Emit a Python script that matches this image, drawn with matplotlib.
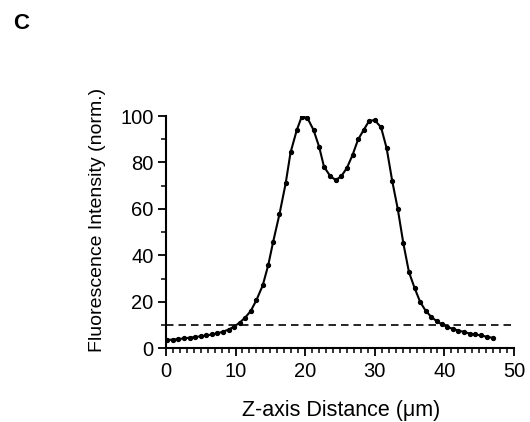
import matplotlib.pyplot as plt

plt.rcParams['font.family'] = ['Liberation Sans', 'DejaVu Sans']

# z-position (um) and normalised fluorescence
z_um = [0.2, 1.0, 1.8, 2.6, 3.4, 4.2, 5.0, 5.8, 6.6, 7.4,
        8.2, 9.0, 9.8, 10.6, 11.4, 12.2, 13.0, 13.9, 14.7, 15.4,
        16.3, 17.2, 17.9, 18.8, 19.5, 20.3, 21.2, 22.0, 22.7, 23.6,
        24.4, 25.2, 26.0, 26.8, 27.6, 28.4, 29.2, 30.0, 30.9, 31.7,
        32.5, 33.3, 34.1, 34.9, 35.7, 36.5, 37.3, 38.1, 38.9, 39.6,
        40.4, 41.2, 42.0, 42.8, 43.6, 44.4, 45.2, 46.1, 47.0]
intensity = [3.5, 3.7, 3.9, 4.2, 4.5, 4.8, 5.1, 5.5, 5.9, 6.4,
             7.1, 8.0, 9.3, 11.0, 13.2, 16.1, 20.7, 27.0, 35.8, 45.8,
             57.6, 71.0, 84.3, 94.0, 99.7, 99.3, 94.0, 86.8, 78.2, 74.1,
             72.4, 74.1, 77.7, 83.2, 89.9, 94.0, 98.0, 98.2, 95.1, 86.1,
             72.0, 59.9, 45.1, 32.8, 26.0, 20.0, 16.1, 13.5, 11.6, 10.3,
             9.2, 8.3, 7.6, 7.0, 6.3, 5.9, 5.5, 4.9, 4.4]
threshold = 10

fig = plt.figure(figsize=(5.3, 4.22), dpi=100)
ax = fig.add_axes([0.313, 0.175, 0.657, 0.55])

ax.plot(z_um, intensity, color='black', lw=1.5, marker='o', ms=2.8)
ax.axhline(threshold, color='black', lw=1.2, ls=(0, (4.5, 3)))

ax.set_xlim(0, 50)
ax.set_ylim(0, 100)
ax.set_xticks(range(0, 51, 10))
ax.set_xticks(range(0, 51, 1), minor=True)
ax.set_yticks(range(0, 101, 20))
ax.set_yticks(range(0, 101, 10), minor=True)
ax.tick_params(which='major', length=6, width=1.3, labelsize=14.5, pad=3)
ax.tick_params(axis='x', which='major', pad=4)
ax.tick_params(which='minor', length=3.5, width=1.1)

for s in ['top', 'right']:
    ax.spines[s].set_visible(False)
for s in ['left', 'bottom']:
    ax.spines[s].set_linewidth(1.5)

ax.set_xlabel('Z-axis Distance (\u03bcm)', fontsize=15.5)
ax.set_ylabel('Fluorescence Intensity (norm.)', fontsize=14)
ax.xaxis.set_label_coords(0.503, -0.224)
ax.yaxis.set_label_coords(-0.172, 0.552)

fig.text(0.024, 0.945, 'C', fontsize=16, weight='bold', va='center')

plt.savefig('out.png', dpi=100)
